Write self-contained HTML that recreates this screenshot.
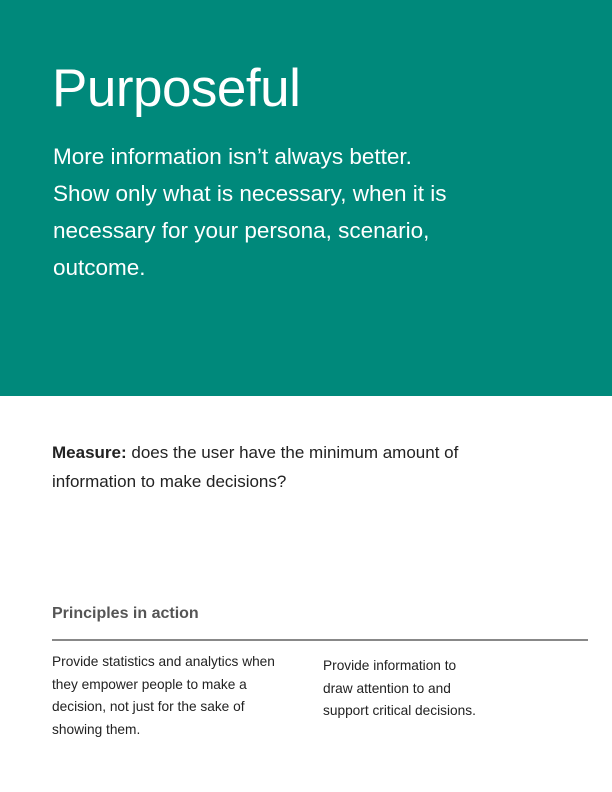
<!DOCTYPE html>
<html><head><meta charset="utf-8"><style>
body{margin:0;width:612px;height:792px;background:#fff;font-family:"Liberation Sans",sans-serif;position:relative;overflow:hidden}
.hero{position:absolute;left:0;top:0;width:612px;height:396px;background:#00897b}
h1{position:absolute;left:52px;top:57px;margin:0;font-weight:normal;font-size:53px;line-height:64px;color:#fff;letter-spacing:-0.5px}
.lead{position:absolute;left:53px;top:138px;width:520px;margin:0;font-size:22.5px;line-height:37px;color:#fff}
.measure{position:absolute;left:52px;top:438px;width:500px;margin:0;font-size:17px;line-height:29px;color:#222}
.ph{position:absolute;left:52px;top:605px;margin:0;font-size:16px;font-weight:bold;color:#555}
.rule{position:absolute;left:52px;top:639px;width:536px;height:2px;background:#888}
.col{position:absolute;margin:0;font-size:13.7px;line-height:22.5px;color:#222}
</style></head><body>
<div class="hero">
<h1>Purposeful</h1>
<p class="lead">More information isn’t always better.<br>Show only what is necessary, when it is<br>necessary for your persona, scenario,<br>outcome.</p>
</div>
<p class="measure"><b>Measure:</b> does the user have the minimum amount of<br>information to make decisions?</p>
<p class="ph">Principles in action</p>
<div class="rule"></div>
<p class="col" style="left:52px;top:651px;width:250px">Provide statistics and analytics when<br>they empower people to make a<br>decision, not just for the sake of<br>showing them.</p>
<p class="col" style="left:323px;top:655px;width:240px">Provide information to<br>draw attention to and<br>support critical decisions.</p>
</body></html>
